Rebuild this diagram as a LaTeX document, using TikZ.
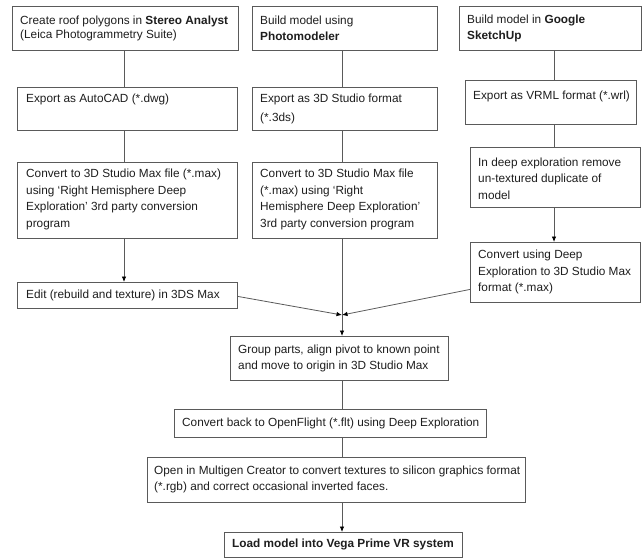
\documentclass[tikz,border=0pt]{standalone}
\usepackage{fontspec}
\setmainfont{Liberation Sans}
\usetikzlibrary{arrows.meta}
\definecolor{linec}{HTML}{5A5A5A}
\definecolor{textc}{HTML}{1E1E1E}
\begin{document}
\begin{tikzpicture}[x=1pt,y=-1pt,
  boxst/.style={draw=linec, line width=0.8pt, anchor=north west, inner sep=0pt, fill=white},
  txt/.style={inner sep=0pt, align=left, text=textc, font=\fontsize{11.8}{16.5}\selectfont},
  conn/.style={draw=linec, line width=0.8pt},
  arr/.style={conn, -{Latex[length=5.5pt,width=4.5pt,color=black]}}]
\useasboundingbox (0,0) rectangle (644,558);
\fill[white] (0,0) rectangle (644,558);
% column coordinates
\coordinate (colA) at (124,0);
\coordinate (colB) at (342,0);
\coordinate (colC) at (554,0);
\coordinate (mrg) at (342,315);
% boxes
\node[boxst, minimum width=226pt, minimum height=44pt] (A1) at (12,6) {};
\node[boxst, minimum width=220pt, minimum height=43pt] (A2) at (17,87) {};
\node[boxst, minimum width=220pt, minimum height=76pt] (A3) at (17,162) {};
\node[boxst, minimum width=220pt, minimum height=26pt] (Ed) at (17,282) {};
\node[boxst, minimum width=185pt, minimum height=44pt] (B1) at (252,6) {};
\node[boxst, minimum width=185pt, minimum height=43pt] (B2) at (252,87) {};
\node[boxst, minimum width=185pt, minimum height=76pt] (B3) at (252,162) {};
\node[boxst, minimum width=182pt, minimum height=44pt] (C1) at (459,6) {};
\node[boxst, minimum width=171pt, minimum height=44pt] (C2) at (465,80) {};
\node[boxst, minimum width=170pt, minimum height=60pt] (C3) at (470,147) {};
\node[boxst, minimum width=170pt, minimum height=60pt] (C4) at (470,242) {};
\node[boxst, minimum width=218pt, minimum height=44pt] (G) at (230,336) {};
\node[boxst, minimum width=312pt, minimum height=28pt] (CB) at (174,409) {};
\node[boxst, minimum width=378pt, minimum height=45pt] (MG) at (147,457) {};
\node[boxst, minimum width=238pt, minimum height=25pt] (LD) at (224,532) {};
% texts
\node[txt, anchor=west, font=\fontsize{11.8}{14.3}\selectfont] (A1t) at ([xshift=8pt]A1.west)
  {Create roof polygons in \textbf{Stereo Analyst}\\(Leica Photogrammetry Suite)};
\node[txt, anchor=west] (A2t) at ([xshift=9pt,yshift=-12pt]A2.north west)
  {Export as AutoCAD (*.dwg)};
\node[txt, anchor=west] (A3t) at ([xshift=9pt,yshift=1pt]A3.west)
  {Convert to 3D Studio Max file (*.max)\\using ‘Right Hemisphere Deep\\Exploration’ 3rd party conversion\\program};
\node[txt, anchor=west] (Edt) at ([xshift=9pt]Ed.west)
  {Edit (rebuild and texture) in 3DS Max};
\node[txt, anchor=west, font=\fontsize{11.8}{16}\selectfont] (B1t) at ([xshift=8pt]B1.west)
  {Build model using\\\textbf{Photomodeler}};
\node[txt, anchor=west, font=\fontsize{11.8}{19}\selectfont] (B2t) at ([xshift=8pt]B2.west)
  {Export as 3D Studio format\\(*.3ds)};
\node[txt, anchor=west] (B3t) at ([xshift=8pt,yshift=1pt]B3.west)
  {Convert to 3D Studio Max file\\(*.max) using ‘Right\\Hemisphere Deep Exploration’\\3rd party conversion program};
\node[txt, anchor=west, font=\fontsize{11.8}{16}\selectfont] (C1t) at ([xshift=8pt]C1.west)
  {Build model in \textbf{Google}\\\textbf{SketchUp}};
\node[txt, anchor=west] (C2t) at ([xshift=8pt,yshift=-16.5pt]C2.north west)
  {Export as VRML format (*.wrl)};
\node[txt, anchor=west] (C3t) at ([xshift=8pt,yshift=-1pt]C3.west)
  {In deep exploration remove\\un-textured duplicate of\\model};
\node[txt, anchor=west] (C4t) at ([xshift=8pt]C4.west)
  {Convert using Deep\\Exploration to 3D Studio Max\\format (*.max)};
\node[txt, anchor=west] (Gt) at ([xshift=8pt]G.west)
  {Group parts, align pivot to known point\\and move to origin in 3D Studio Max};
\node[txt, anchor=west] (CBt) at ([xshift=8pt]CB.west)
  {Convert back to OpenFlight (*.flt) using Deep Exploration};
\node[txt, anchor=west, font=\fontsize{11.8}{16}\selectfont] (MGt) at ([xshift=7pt]MG.west)
  {Open in Multigen Creator to convert textures to silicon graphics format\\(*.rgb) and correct occasional inverted faces.};
\node[txt, anchor=west] (LDt) at ([xshift=8pt]LD.west)
  {\textbf{Load model into Vega Prime VR system}};
% connectors
\draw[conn] (A1.south -| colA) -- (A2.north -| colA);
\draw[conn] (A2.south -| colA) -- (A3.north -| colA);
\draw[arr] (A3.south -| colA) -- (Ed.north -| colA);
\draw[conn] (B1.south -| colB) -- (B2.north -| colB);
\draw[conn] (B2.south -| colB) -- (B3.north -| colB);
\draw[conn] (C1.south -| colC) -- (C2.north -| colC);
\draw[conn] (C2.south -| colC) -- (C3.north -| colC);
\draw[arr] (C3.south -| colC) -- (C4.north -| colC);
\draw[arr] ([yshift=-1pt]Ed.east) -- (mrg);
\draw[arr] ([yshift=-17pt]C4.west) -- (mrg);
\draw[arr] (B3.south -| colB) -- (G.north -| colB);
\draw[conn] (G.south -| colB) -- (CB.north -| colB);
\draw[conn] (CB.south -| colB) -- (MG.north -| colB);
\draw[arr] (MG.south -| colB) -- (LD.north -| colB);
\end{tikzpicture}
\end{document}
